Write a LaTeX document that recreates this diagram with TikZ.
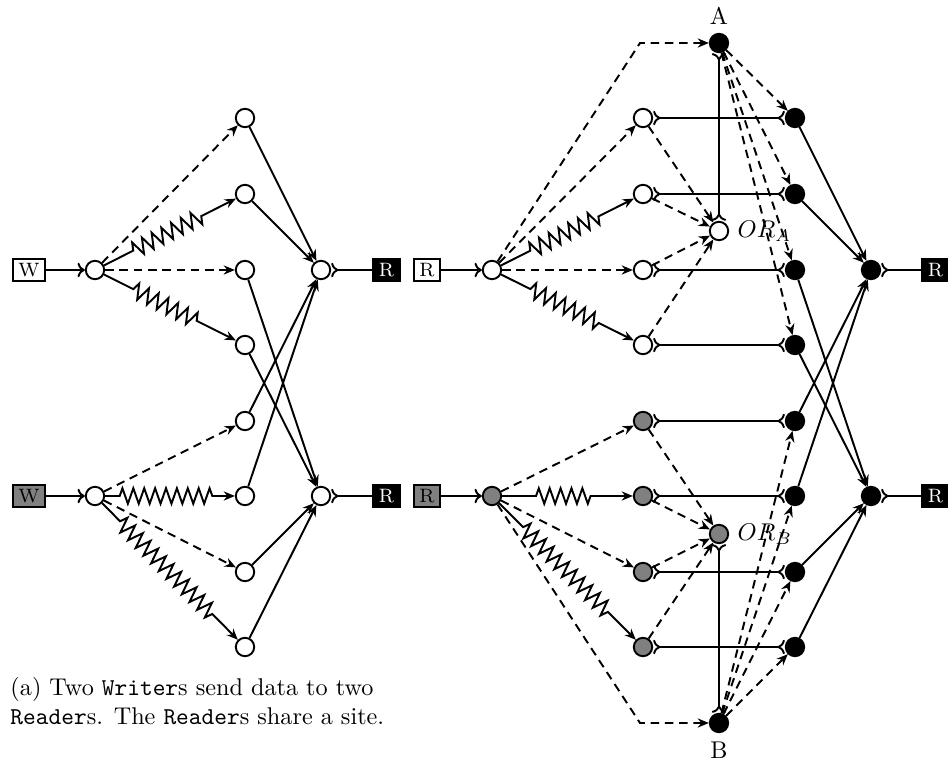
\documentclass[tikz,border=0pt]{standalone}
\usetikzlibrary{arrows.meta,decorations.pathmorphing}
\begin{document}
\begin{tikzpicture}[x=0.413pt,y=-0.413pt,
  nd/.style={circle,draw,thick,minimum size=7.6pt,inner sep=0pt},
  wn/.style={nd,fill=white},
  gn/.style={nd,fill=gray},
  bn/.style={nd,fill=black},
  bx/.style={draw,thick,font=\footnotesize,inner xsep=2.3pt,inner ysep=1.7pt,text height=5.6pt,text depth=0pt},
  wbx/.style={bx,fill=white},
  gbx/.style={bx,fill=gray},
  bbx/.style={bx,fill=black,text=white},
  sarr/.style={thick,-{Stealth[length=4.6pt,width=3.8pt,inset=1.5pt]}},
  darr/.style={sarr,dash pattern=on 3.5pt off 2.4pt},
  zarr/.style 2 args={sarr,decorate,decoration={zigzag,amplitude=3.2pt,segment length=4.5pt,pre length=#1,post length=#2}},
  feedarr/.style={thick,-{To[length=3pt,width=6pt]}},
  tailline/.style={thick,{To[reversed,length=3pt,width=6pt]}-},
  dualline/.style={thick,{To[reversed,length=3pt,width=6pt]}-{To[reversed,length=3pt,width=6pt]}},
]
\useasboundingbox (0,0) rectangle (948,767);

% ---------- left part ----------
\node[wbx] (Wt) at (29,270) {W};
\node[gbx] (Wb) at (29,496) {W};
\node[wn] (wt) at (95,270) {};
\node[wn] (wb) at (95,496) {};
\foreach \i/\y in {1/118,2/194,3/270,4/345,5/421,6/496,7/572,8/647}
  \node[wn] (L\i) at (245,\y) {};
\node[wn] (rt) at (321,270) {};
\node[wn] (rb) at (321,496) {};
\node[bbx] (Rt) at (386.5,270) {R};
\node[bbx] (Rb) at (386.5,496) {R};

\draw[feedarr] (Wt) -- (wt);
\draw[feedarr] (Wb) -- (wb);
\draw[darr] (wt) -- (L1);
\draw[zarr={13.5pt}{16pt}] (wt) -- (L2);
\draw[darr] (wt) -- (L3);
\draw[zarr={13.5pt}{16pt}] (wt) -- (L4);
\draw[darr] (wb) -- (L5);
\draw[zarr={6pt}{7.5pt}] (wb) -- (L6);
\draw[darr] (wb) -- (L7);
\draw[zarr={10.5pt}{14pt}] (wb) -- (L8);
\foreach \i in {1,2,5,6} \draw[sarr] (L\i) -- (rt);
\foreach \i in {3,4,7,8} \draw[sarr] (L\i) -- (rb);
\draw[tailline] (rt) -- (Rt);
\draw[tailline] (rb) -- (Rb);

% ---------- right part ----------
\node[wbx] (Q1) at (427,270) {R};
\node[gbx] (Q2) at (427,496) {R};
\node[wn] (vt) at (492,270) {};
\node[gn] (vb) at (492,496) {};
\foreach \i/\y in {1/118,2/194,3/270,4/345}
  \node[wn] (M\i) at (643,\y) {};
\foreach \i/\y in {5/421,6/496,7/572,8/647}
  \node[gn] (M\i) at (643,\y) {};
\node[bn,label={above:A}] (A) at (719,43) {};
\node[bn,label={below:B}] (B) at (719,723) {};
\node[wn,label={right:$OR_A$}] (ORA) at (719,231) {};
\node[gn,label={right:$OR_B$}] (ORB) at (719,534) {};
\foreach \i/\y in {1/118,2/194,3/270,4/345,5/421,6/496,7/572,8/647}
  \node[bn] (K\i) at (795,\y) {};
\node[bn] (ct) at (871,270) {};
\node[bn] (cb) at (871,496) {};
\node[bbx] (F1) at (935.5,270) {R};
\node[bbx] (F2) at (935.5,496) {R};
\coordinate (cA) at (640,43);
\coordinate (cB) at (640,723);

\draw[feedarr] (Q1) -- (vt);
\draw[feedarr] (Q2) -- (vb);
\draw[darr] (vt) -- (cA) -- (A);
\draw[darr] (vt) -- (M1);
\draw[zarr={13.5pt}{16pt}] (vt) -- (M2);
\draw[darr] (vt) -- (M3);
\draw[zarr={13.5pt}{16pt}] (vt) -- (M4);
\draw[darr] (vb) -- (cB) -- (B);
\draw[darr] (vb) -- (M5);
\draw[zarr={14pt}{15.5pt}] (vb) -- (M6);
\draw[darr] (vb) -- (M7);
\draw[zarr={14pt}{15.5pt}] (vb) -- (M8);
\foreach \i in {1,2,3,4} \draw[darr] (M\i) -- (ORA);
\foreach \i in {5,6,7,8} \draw[darr] (M\i) -- (ORB);
\draw[dualline] (ORA) -- (A);
\draw[dualline] (ORB) -- (B);
\foreach \i in {1,...,8} \draw[dualline] (M\i) -- (K\i);
\foreach \i in {1,2,3,4} \draw[darr] (A) -- (K\i);
\foreach \i in {5,6,7,8} \draw[darr] (B) -- (K\i);
\foreach \i in {1,2,5,6} \draw[sarr] (K\i) -- (ct);
\foreach \i in {3,4,7,8} \draw[sarr] (K\i) -- (cb);
\draw[tailline] (ct) -- (F1);
\draw[tailline] (cb) -- (F2);

% ---------- caption ----------
\node[anchor=north west,inner sep=0pt,align=left] (cap) at (10,677)
  {(a) Two \texttt{Writer}s send data to two\\\texttt{Reader}s. The \texttt{Reader}s share a site.};
\end{tikzpicture}
\end{document}
